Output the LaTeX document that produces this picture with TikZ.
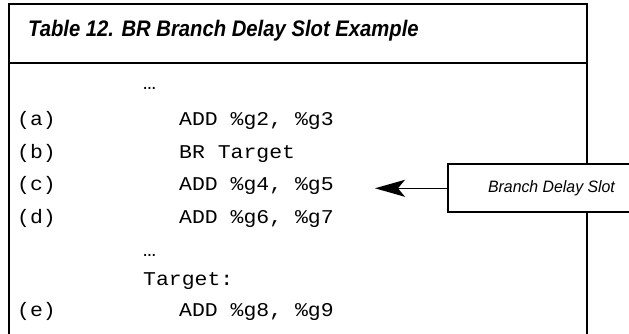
\documentclass[tikz,border=0pt]{standalone}
\usepackage{fontspec}
\usetikzlibrary{arrows.meta}
\newfontfamily\codefont[FakeStretch=1.1]{Liberation Mono}
\newfontfamily\headfont[FakeStretch=0.9]{Liberation Sans}
\newfontfamily\notefont[FakeStretch=0.96]{Liberation Sans}
\tikzset{
  frame/.style={line width=2pt, line cap=rect},
  codeline/.style={anchor=base west, inner sep=0pt, font=\codefont\fontsize{19.5}{20}\selectfont},
  titletext/.style={anchor=base west, inner sep=0pt, font=\headfont\fontsize{22.5}{24}\selectfont\bfseries\itshape},
  notebox/.style={draw, line width=2pt, fill=white, minimum width=207pt, minimum height=48pt,
    inner sep=0pt, font=\notefont\fontsize{16.5}{18}\selectfont\itshape},
  pointer/.style={line width=1.4pt, -{Stealth[length=30pt, width=17pt, inset=7pt]}}
}
\begin{document}
\begin{tikzpicture}[x=1pt, y=-1pt]
  \useasboundingbox (0,0) rectangle (629,334);
  % table frame: top rule, header rule, open-bottom sides
  \coordinate (tl) at (9,4);
  \coordinate (tr) at (587,4);
  \coordinate (bl) at (9,340);
  \coordinate (br) at (587,340);
  \draw[frame] (bl) -- (tl) -- (tr) -- (br);
  \draw[frame] (9,63.5) -- (587,63.5);
  % caption
  \node[titletext] (title) at (28,37) {Table 12. BR Branch Delay Slot Example};
  % listing
  \node[codeline] (dots1) at (143,90) {…};
  \node[codeline] (la) at (17,125.5) {(a)};
  \node[codeline] (ca) at (179,125.5) {ADD \%g2, \%g3};
  \node[codeline] (lb) at (17,158) {(b)};
  \node[codeline] (cb) at (179,158) {BR Target};
  \node[codeline] (lc) at (17,190.5) {(c)};
  \node[codeline] (cc) at (179,190.5) {ADD \%g4, \%g5};
  \node[codeline] (ld) at (17,223.5) {(d)};
  \node[codeline] (cd) at (179,223.5) {ADD \%g6, \%g7};
  \node[codeline] (dots2) at (143,256) {…};
  \node[codeline] (tgt) at (143,285.5) {Target:};
  \node[codeline] (le) at (17,316) {(e)};
  \node[codeline] (ce) at (179,316) {ADD \%g8, \%g9};
  % delay-slot callout
  \node[notebox] (slot) at (551.5,188.3) {Branch Delay Slot};
  \coordinate (tip) at (375,188.3);
  \draw[pointer] (slot.west) -- (tip);
\end{tikzpicture}
\end{document}
